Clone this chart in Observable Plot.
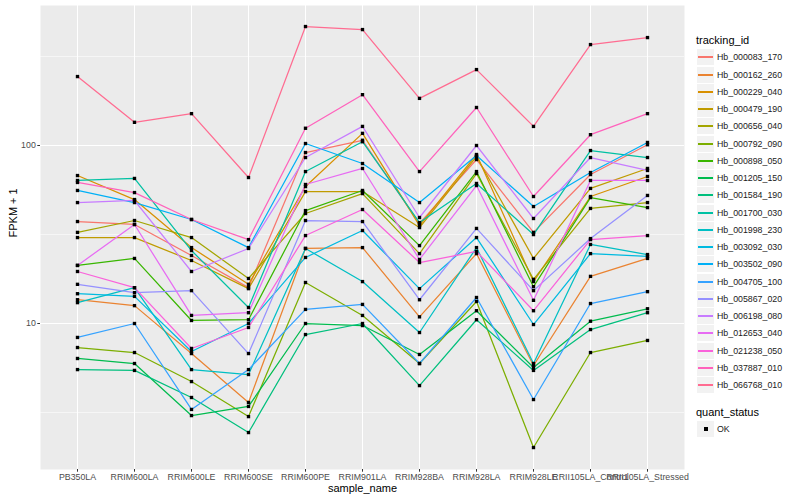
<!DOCTYPE html>
<html>
<head>
<meta charset="utf-8">
<script src="https://cdn.jsdelivr.net/npm/d3@7"></script>
<script src="https://cdn.jsdelivr.net/npm/@observablehq/plot@0.6"></script>
<style>
  html, body { margin: 0; padding: 0; background: #fff; }
  #wrap { position: relative; width: 800px; height: 500px; font-family: "Liberation Sans", Arial, Helvetica, sans-serif; }
  #wrap svg { position: absolute; left: 0; top: 0; }
  .lg { position: absolute; left: 0; top: 0; width: 800px; height: 500px; pointer-events: none; }
  .ttl { position: absolute; left: 696px; font-size: 11px; color: #000; line-height: 14px; }
  .key { position: absolute; left: 697px; width: 17px; height: 16px; background: #F2F2F2; }
  .key i { position: absolute; left: 1px; right: 1px; top: 7px; height: 2px; display: block; }
  .key b { position: absolute; left: 7px; top: 6px; width: 4px; height: 4px; background: #000; display: block; }
  .lab { position: absolute; left: 717px; font-size: 8.8px; color: #1a1a1a; line-height: 10px; white-space: nowrap; }
</style>
</head>
<body>
<div id="wrap"></div>
<script>
const samples = ["PB350LA","RRIM600LA","RRIM600LE","RRIM600SE","RRIM600PE","RRIM901LA","RRIM928BA","RRIM928LA","RRIM928LE","RRII105LA_Control","RRII105LA_Stressed"];

const trackingIds = ["Hb_000083_170","Hb_000162_260","Hb_000229_040","Hb_000479_190","Hb_000656_040","Hb_000792_090","Hb_000898_050","Hb_001205_150","Hb_001584_190","Hb_001700_030","Hb_001998_230","Hb_003092_030","Hb_003502_090","Hb_004705_100","Hb_005867_020","Hb_006198_080","Hb_012653_040","Hb_021238_050","Hb_037887_010","Hb_066768_010"];

const hueColors = ["#F8766D","#EA8331","#D89000","#C09B00","#A3A500","#7CAE00","#39B600","#00BB4E","#00BF7D","#00C1A3","#00BFC4","#00BAE0","#00B0F6","#35A2FF","#9590FF","#C77CFF","#E76BF3","#FA62DB","#FF62BC","#FF6C91"];

// FPKM + 1 per sample (order of samples)
const hb_000083_170 = [37.4,36.0,24.1,15.9,91.3,107,36.5,83.4,32.5,68.7,101];
const hb_000162_260 = [13.6,12.6,6.78,3.60,26.4,26.7,10.9,24.7,5.81,18.4,23.2];
const hb_000229_040 = [67.8,49.7,26.7,16.6,58.8,117,35.5,89.0,17.2,51.7,67.0];
const hb_000479_190 = [30.4,30.4,22.6,15.7,55.1,55.1,34.6,86.7,23.2,57.4,74.3];
const hb_000656_040 = [32.5,37.9,30.4,17.9,41.5,53.7,24.7,69.6,17.7,44.3,47.8];
const hb_000792_090 = [7.33,6.87,4.72,3.00,17.0,11.1,5.96,13.3,2.01,6.87,8.03];
const hb_000898_050 = [21.2,23.2,10.4,10.5,43.1,55.9,27.4,71.4,16.1,51.0,44.8];
const hb_001205_150 = [6.36,5.96,3.04,3.42,10.0,9.74,6.70,11.8,5.66,10.3,12.1];
const hb_001584_190 = [5.51,5.45,3.84,2.44,8.67,10.0,4.48,10.5,5.45,9.25,11.5];
const hb_001700_030 = [63.6,65.3,25.7,12.3,71.4,105,36.9,61.2,31.6,93.7,85.6];
const hb_001998_230 = [13.1,15.9,5.51,5.17,26.4,17.2,8.9,26.7,5.96,27.8,24.4];
const hb_003092_030 = [14.7,14.2,6.96,10.0,23.5,33.3,15.7,30.4,9.87,24.7,23.8];
const hb_003502_090 = [55.9,47.8,38.4,26.7,102.6,79.2,47.8,87.9,45.4,70.5,104];
const hb_004705_100 = [8.35,10.0,3.29,5.51,12.0,12.8,5.96,14.0,3.74,12.95,15.1];
const hb_005867_020 = [16.6,14.9,15.3,6.78,37.9,37.4,13.6,34.2,15.3,30.0,52.4];
const hb_006198_080 = [47.8,49.1,19.6,26.4,85.6,128,39.4,100,38.9,85.6,72.4];
const hb_012653_040 = [21.2,36.0,11.1,11.5,60.4,74.3,22.9,59.6,13.5,63.6,63.6];
const hb_021238_050 = [19.6,15.9,7.24,9.5,31.2,43.7,22.0,25.4,11.8,29.6,31.2];
const hb_037887_010 = [62.0,54.4,38.4,29.6,125,193,71.4,163.5,51.7,115,151];
const hb_066768_010 = [244,135,151,66.1,466,448,184,267,128,369,404];

const seriesValues = [hb_000083_170,hb_000162_260,hb_000229_040,hb_000479_190,hb_000656_040,hb_000792_090,hb_000898_050,hb_001205_150,hb_001584_190,hb_001700_030,hb_001998_230,hb_003092_030,hb_003502_090,hb_004705_100,hb_005867_020,hb_006198_080,hb_012653_040,hb_021238_050,hb_037887_010,hb_066768_010];

const yTicks = [10, 100];
const yMinor = [Math.sqrt(10), Math.sqrt(1000), Math.sqrt(100000)];

const rows = [];
trackingIds.forEach((id, i) => {
  seriesValues[i].forEach((v, j) => rows.push({tracking_id: id, sample_name: samples[j], fpkm: v, quant_status: "OK"}));
});

const font = "'Liberation Sans', Arial, Helvetica, sans-serif";

const chart = Plot.plot({
  width: 800,
  height: 500,
  marginLeft: 40,
  marginRight: 116,
  marginTop: 5,
  marginBottom: 31,
  style: {fontFamily: font, fontSize: "8.8px", background: "transparent", overflow: "visible"},
  x: {type: "point", domain: samples, padding: 0.6},
  y: {type: "log", domain: [1.513, 611.7]},
  color: {domain: trackingIds, range: hueColors},
  marks: [
    Plot.frame({fill: "#EBEBEB", stroke: null}),
    Plot.gridY(yMinor, {stroke: "#FFFFFF", strokeOpacity: 1, strokeWidth: 0.55}),
    Plot.gridY(yTicks, {stroke: "#FFFFFF", strokeOpacity: 1, strokeWidth: 1.07}),
    Plot.gridX(samples, {stroke: "#FFFFFF", strokeOpacity: 1, strokeWidth: 1.07}),
    Plot.line(rows, {x: "sample_name", y: "fpkm", z: "tracking_id", stroke: "tracking_id", strokeWidth: 1.25}),
    Plot.dot(rows, {x: "sample_name", y: "fpkm", symbol: "square", r: 1.9, fill: "#000", stroke: null}),
    Plot.axisX(samples, {tickSize: 2.7, tickPadding: 1.5, stroke: "#333333", fill: "#4D4D4D", fontSize: 8.8, label: null}),
    Plot.axisY(yTicks, {tickSize: 2.7, tickPadding: 2, stroke: "#333333", fill: "#4D4D4D", fontSize: 8.8, tickFormat: d => String(d), label: null}),
    Plot.text(["sample_name"], {frameAnchor: "bottom", dy: 22, fontSize: 11, fill: "#000"}),
    Plot.text(["FPKM + 1"], {frameAnchor: "left", dx: -27, rotate: -90, fontSize: 11, fill: "#000"})
  ]
});

const wrap = document.getElementById("wrap");
wrap.appendChild(chart);

// Legend (ggplot-style, right side)
const lg = document.createElement("div");
lg.className = "lg";
let html = `<div class="ttl" style="top:33px">tracking_id</div>`;
trackingIds.forEach((id, i) => {
  const cy = 57.3 + 17.25 * i;
  html += `<div class="key" style="top:${Math.round(cy - 8)}px"><i style="background:${hueColors[i]}"></i></div>`;
  html += `<div class="lab" style="top:${(cy - 5).toFixed(1)}px">${id}</div>`;
});
html += `<div class="ttl" style="top:405px">quant_status</div>`;
html += `<div class="key" style="top:421px"><b></b></div>`;
html += `<div class="lab" style="top:424px">OK</div>`;
lg.innerHTML = html;
wrap.appendChild(lg);
</script>
</body>
</html>
